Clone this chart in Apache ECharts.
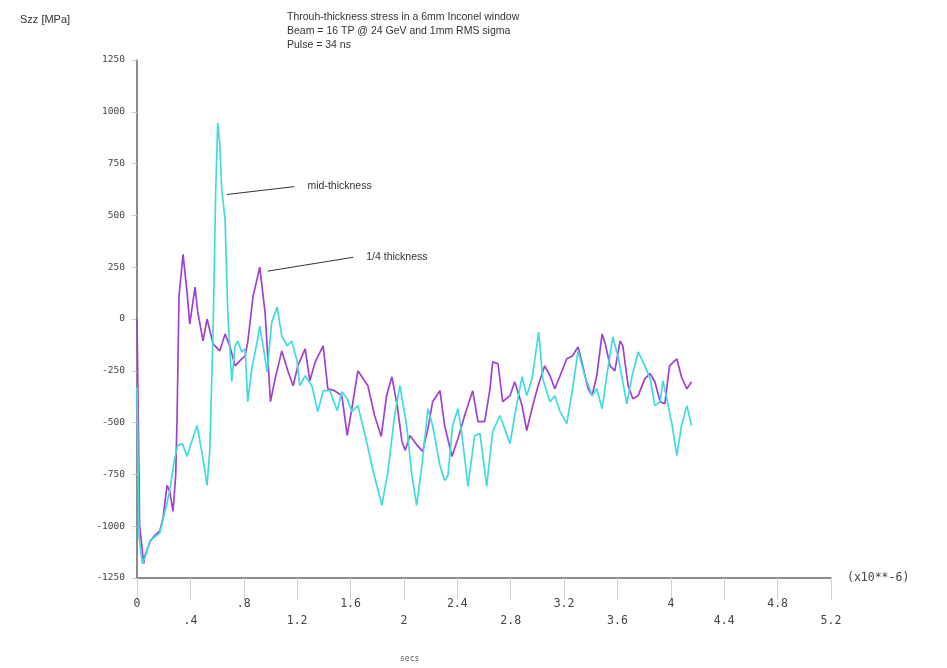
<!DOCTYPE html>
<html>
<head>
<meta charset="utf-8">
<script src="https://cdn.jsdelivr.net/npm/echarts@6/dist/echarts.min.js"></script>
<style>
  html, body { margin: 0; padding: 0; background: #ffffff; }
  #chart { width: 947px; height: 668px; }
</style>
</head>
<body>
<div id="chart"></div>
<script>
// Time axis in microseconds (x10**-6 s), stress Szz in MPa
const xTickLabels = ['0', '.4', '.8', '1.2', '1.6', '2', '2.4', '2.8', '3.2', '3.6', '4', '4.4', '4.8', '5.2'];
const yTickValues = [-1250, -1000, -750, -500, -250, 0, 250, 500, 750, 1000, 1250];

const titleLines = [
  'Throuh-thickness stress in a 6mm Inconel window',
  'Beam = 16 TP @ 24 GeV and 1mm RMS sigma',
  'Pulse = 34 ns'
];

// 1/4 thickness: [time, stress]
const quarterThickness = [
  [0, 0], [0.02, -1000], [0.05, -1180], [0.06, -1140], [0.10, -1072], [0.135, -1043],
  [0.17, -1024], [0.195, -961], [0.225, -803], [0.245, -832], [0.27, -928], [0.29, -755],
  [0.30, -481], [0.315, 111], [0.345, 312], [0.375, 130], [0.395, -25], [0.435, 154],
  [0.455, 34], [0.495, -106], [0.525, 0], [0.57, -120], [0.62, -154], [0.66, -72],
  [0.695, -130], [0.735, -226], [0.77, -202], [0.81, -178], [0.83, -110], [0.87, 111],
  [0.92, 250], [0.96, 30], [1.0, -399], [1.035, -288], [1.085, -154], [1.13, -250],
  [1.17, -322], [1.205, -226], [1.26, -144], [1.295, -298], [1.335, -207], [1.395, -130],
  [1.43, -337], [1.48, -346], [1.535, -370], [1.575, -562], [1.61, -432], [1.655, -250],
  [1.73, -322], [1.78, -466], [1.83, -567], [1.87, -370], [1.91, -279], [1.95, -418],
  [1.985, -591], [2.01, -634], [2.045, -562], [2.10, -610], [2.14, -639], [2.18, -529],
  [2.215, -399], [2.27, -346], [2.305, -514], [2.36, -663], [2.405, -577], [2.455, -466],
  [2.515, -346], [2.555, -495], [2.605, -495], [2.645, -337], [2.665, -207], [2.705, -216],
  [2.74, -399], [2.795, -370], [2.83, -303], [2.885, -418], [2.92, -538], [2.96, -432],
  [3.005, -322], [3.055, -226], [3.095, -274], [3.13, -337], [3.17, -274], [3.22, -192],
  [3.26, -180], [3.305, -135], [3.34, -226], [3.38, -337], [3.41, -370], [3.445, -274],
  [3.485, -72], [3.505, -111], [3.545, -226], [3.58, -250], [3.62, -106], [3.64, -130],
  [3.68, -322], [3.715, -385], [3.755, -370], [3.805, -288], [3.845, -264], [3.88, -303],
  [3.92, -399], [3.955, -409], [3.99, -226], [4.045, -192], [4.08, -280], [4.12, -337],
  [4.155, -303]
];

// mid-thickness: [time, stress]
const midThickness = [
  [0, -330], [0.015, -1050], [0.04, -1180], [0.06, -1150], [0.10, -1067], [0.17, -1034],
  [0.21, -928], [0.245, -830], [0.28, -680], [0.305, -610], [0.34, -601], [0.375, -663],
  [0.41, -591], [0.45, -514], [0.485, -639], [0.525, -803], [0.545, -639], [0.57, -63],
  [0.59, 625], [0.605, 947], [0.62, 851], [0.635, 625], [0.66, 481], [0.68, 34],
  [0.71, -303], [0.735, -130], [0.755, -106], [0.785, -159], [0.81, -144], [0.83, -399],
  [0.86, -240], [0.90, -111], [0.92, -34], [0.945, -130], [0.975, -255], [1.01, -14],
  [1.05, 58], [1.085, -82], [1.125, -130], [1.16, -106], [1.20, -207], [1.22, -322],
  [1.26, -274], [1.31, -322], [1.355, -447], [1.395, -346], [1.445, -346], [1.50, -442],
  [1.535, -351], [1.575, -385], [1.61, -447], [1.655, -418], [1.71, -562], [1.77, -736],
  [1.835, -899], [1.88, -736], [1.93, -466], [1.97, -322], [2.02, -514], [2.06, -755],
  [2.095, -899], [2.135, -707], [2.18, -433], [2.215, -514], [2.27, -707], [2.305, -779],
  [2.33, -755], [2.365, -514], [2.405, -433], [2.435, -562], [2.48, -808], [2.53, -562],
  [2.57, -553], [2.62, -808], [2.665, -543], [2.72, -466], [2.755, -529], [2.795, -601],
  [2.83, -466], [2.885, -279], [2.92, -370], [2.96, -288], [3.01, -63], [3.04, -288],
  [3.095, -399], [3.13, -370], [3.17, -447], [3.22, -505], [3.26, -351], [3.305, -154],
  [3.355, -274], [3.41, -370], [3.445, -337], [3.485, -433], [3.52, -274], [3.565, -87],
  [3.605, -183], [3.64, -303], [3.67, -409], [3.71, -274], [3.755, -159], [3.805, -226],
  [3.845, -288], [3.88, -418], [3.92, -399], [3.94, -298], [3.97, -385], [4.01, -514],
  [4.045, -659], [4.08, -514], [4.12, -418], [4.155, -514]
];

// Leader lines from a curve point to its caption: [from, to] in data units
const annotations = [
  { text: 'mid-thickness', from: [0.674, 601], to: [1.18, 639] },
  { text: '1/4 thickness', from: [0.98, 231], to: [1.62, 298] }
];

const chart = echarts.init(document.getElementById('chart'), null, { renderer: 'canvas' });

const monoFont = '"DejaVu Sans Mono", "Liberation Mono", monospace';
const sansFont = '"Liberation Sans", Arial, sans-serif';

chart.setOption({
  animation: false,
  backgroundColor: '#ffffff',
  grid: { left: 137, top: 60, width: 694, height: 518 },
  xAxis: {
    type: 'value',
    min: 0,
    max: 5.2,
    interval: 0.4,
    name: '(x10**-6)',
    nameLocation: 'end',
    nameGap: 16,
    nameTextStyle: { fontFamily: monoFont, fontSize: 11.5, color: '#444', verticalAlign: 'middle' },
    axisLine: { show: true, onZero: false, lineStyle: { color: '#666', width: 1.5 } },
    axisTick: { show: true, length: 22, lineStyle: { color: '#d0d0d0', width: 1 } },
    axisLabel: {
      fontFamily: monoFont,
      fontSize: 11.5,
      color: '#444',
      margin: 18,
      lineHeight: 17,
      showMinLabel: true,
      showMaxLabel: true,
      formatter: function (value) {
        const i = Math.round(value / 0.4);
        const label = xTickLabels[i] !== undefined ? xTickLabels[i] : String(value);
        return i % 2 === 1 ? '\n' + label : label;
      }
    },
    splitLine: { show: false }
  },
  yAxis: {
    type: 'value',
    min: yTickValues[0],
    max: yTickValues[yTickValues.length - 1],
    interval: 250,
    axisLine: { show: true, onZero: false, lineStyle: { color: '#666', width: 1.5 } },
    axisTick: { show: true, length: 5, lineStyle: { color: '#ccc', width: 1 } },
    axisLabel: {
      fontFamily: monoFont,
      fontSize: 9.5,
      color: '#444',
      margin: 12,
      showMinLabel: true,
      showMaxLabel: true,
      formatter: function (value) { return String(value); }
    },
    splitLine: { show: false }
  },
  series: [
    {
      name: '1/4 thickness',
      type: 'line',
      data: quarterThickness,
      showSymbol: false,
      symbol: 'none',
      lineStyle: { color: '#a040d2', width: 1.7 },
      z: 2
    },
    {
      name: 'mid-thickness',
      type: 'line',
      data: midThickness,
      showSymbol: false,
      symbol: 'none',
      lineStyle: { color: '#40dcdc', width: 1.7 },
      z: 3
    }
  ]
});

// Fixed texts plus leader lines positioned from data coordinates
const graphics = [
  {
    type: 'text', left: 20, top: 14,
    style: { text: 'Szz [MPa]', font: '11px ' + sansFont, fill: '#333' }
  },
  {
    type: 'text', left: 287, top: 10,
    style: { text: titleLines.join('\n'), font: '10.5px ' + sansFont, lineHeight: 14, fill: '#333' }
  },
  {
    type: 'text', left: 400, top: 655,
    style: { text: 'secs', font: '8px ' + monoFont, fill: '#555' }
  }
];

annotations.forEach(function (a) {
  const p1 = chart.convertToPixel({ gridIndex: 0 }, a.from);
  const p2 = chart.convertToPixel({ gridIndex: 0 }, a.to);
  graphics.push({
    type: 'line',
    shape: { x1: p1[0], y1: p1[1], x2: p2[0], y2: p2[1] },
    style: { stroke: '#333', lineWidth: 1 },
    z: 10
  });
  graphics.push({
    type: 'text',
    x: p2[0] + 13,
    y: p2[1],
    style: { text: a.text, font: '10.5px ' + sansFont, fill: '#333', verticalAlign: 'middle' },
    z: 10
  });
});

chart.setOption({ graphic: graphics });
</script>
</body>
</html>
